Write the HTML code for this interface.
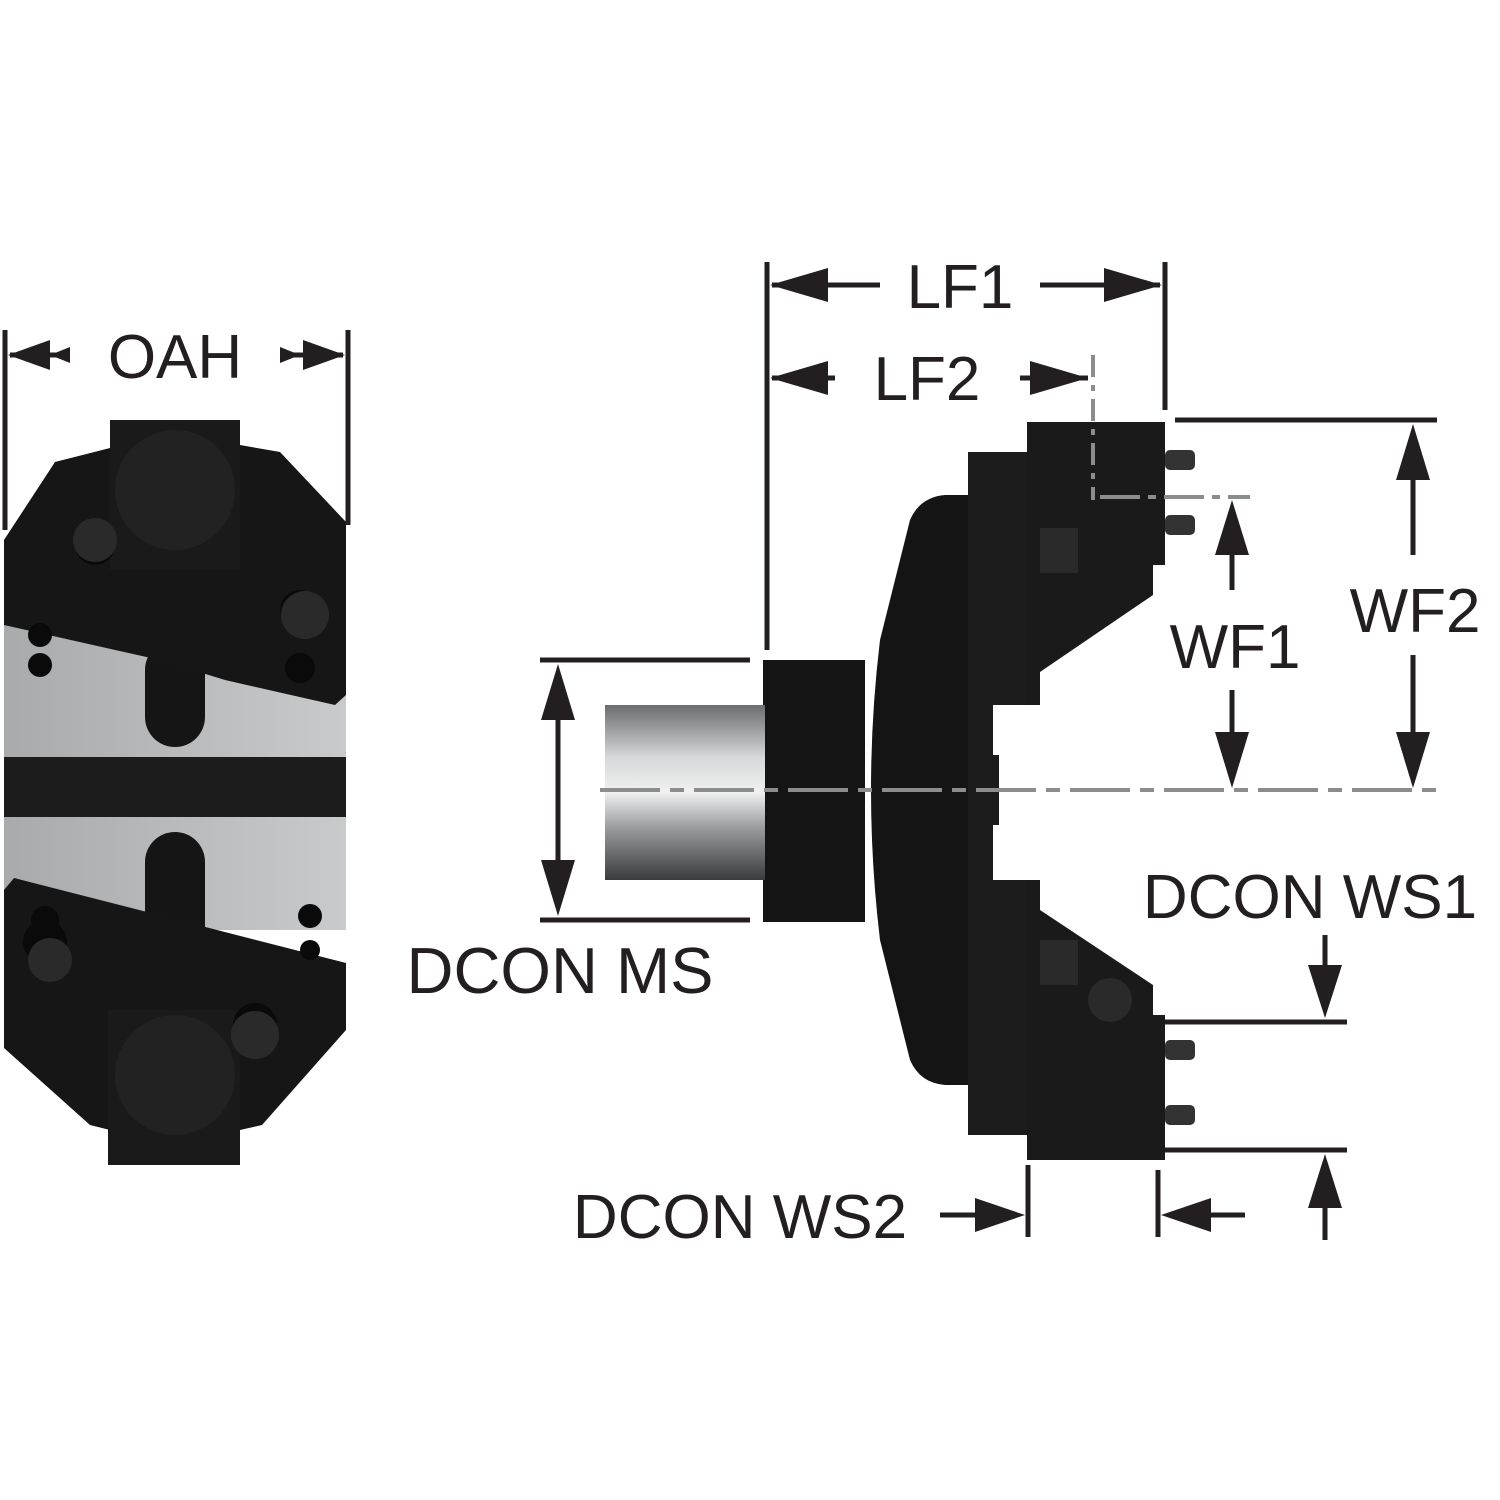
<!DOCTYPE html>
<html><head><meta charset="utf-8"><style>
html,body{margin:0;padding:0;background:#fff}
svg{display:block}
text{font-family:"Liberation Sans",sans-serif;fill:#231f20}
</style></head><body>
<svg width="1500" height="1500" viewBox="0 0 1500 1500" xmlns="http://www.w3.org/2000/svg">
<defs>
<linearGradient id="g1" x1="0" y1="0" x2="0" y2="1"><stop offset="0" stop-color="#6a6c6e"/><stop offset=".3" stop-color="#d6d8d9"/><stop offset=".5" stop-color="#f0f0f0"/><stop offset=".7" stop-color="#9a9c9e"/><stop offset="1" stop-color="#3a3b3c"/></linearGradient>
<linearGradient id="gb" x1="0" y1="0" x2="1" y2="0"><stop offset="0" stop-color="#a8aaab"/><stop offset="1" stop-color="#c8cacb"/></linearGradient>
</defs>
<!-- LEFT VIEW -->
<rect x="4" y="590" width="342" height="340" fill="url(#gb)"/>
<rect x="4" y="757" width="342" height="60" fill="#1c1c1c"/>
<rect x="145" y="640" width="60" height="107" rx="30" fill="#151515"/>
<rect x="145" y="832" width="60" height="130" rx="30" fill="#151515"/>
<polygon points="4,625 4,540 55,462 110,448 110,420 240,420 240,445 280,452 346,522 346,695 335,705 225,680 160,660" fill="#161616"/>
<rect x="110" y="420" width="130" height="150" fill="#1a1a1a"/>
<circle cx="175" cy="490" r="60" fill="#222"/>
<polygon points="4,890 14,878 346,963 346,1030 262,1125 240,1130 110,1130 90,1125 4,1048" fill="#161616"/>
<rect x="108" y="1010" width="132" height="155" fill="#1a1a1a"/>
<circle cx="175" cy="1075" r="60" fill="#222"/>
<g fill="#0a0a0a"><circle cx="40" cy="635" r="12"/><circle cx="40" cy="665" r="12"/><circle cx="310" cy="916" r="12"/><circle cx="310" cy="950" r="10"/><circle cx="95" cy="545" r="20"/><circle cx="300" cy="610" r="20"/><circle cx="45" cy="942" r="22"/><circle cx="255" cy="1025" r="22"/><circle cx="300" cy="668" r="15"/><circle cx="45" cy="920" r="14"/></g>
<g fill="#2a2a2a"><circle cx="95" cy="540" r="22"/><circle cx="50" cy="960" r="22"/><circle cx="255" cy="1035" r="24"/><circle cx="305" cy="615" r="24"/></g>
<!-- dims -->
<g stroke="#231f20" stroke-width="5" fill="none">
<line x1="5" y1="330" x2="5" y2="530"/><line x1="348" y1="330" x2="348" y2="525"/>
<line x1="10" y1="355" x2="70" y2="355"/><line x1="280" y1="355" x2="343" y2="355"/>
<line x1="767" y1="262" x2="767" y2="650"/><line x1="1165" y1="262" x2="1165" y2="410"/>
<line x1="772" y1="285" x2="880" y2="285"/><line x1="1040" y1="285" x2="1160" y2="285"/>
<line x1="772" y1="378" x2="835" y2="378"/><line x1="1020" y1="378" x2="1088" y2="378"/>
<line x1="1175" y1="420" x2="1437" y2="420"/>
<line x1="1413" y1="470" x2="1413" y2="555"/><line x1="1413" y1="655" x2="1413" y2="740"/>
<line x1="1232" y1="545" x2="1232" y2="590"/><line x1="1232" y1="690" x2="1232" y2="740"/>
<line x1="540" y1="660" x2="750" y2="660"/><line x1="540" y1="920" x2="750" y2="920"/>
<line x1="558" y1="715" x2="558" y2="865"/>
<line x1="1165" y1="1022" x2="1347" y2="1022"/><line x1="1165" y1="1150" x2="1347" y2="1150"/>
<line x1="1325" y1="935" x2="1325" y2="975"/><line x1="1325" y1="1200" x2="1325" y2="1240"/>
<line x1="1028" y1="1165" x2="1028" y2="1237"/><line x1="1158" y1="1170" x2="1158" y2="1237"/>
<line x1="940" y1="1215" x2="980" y2="1215"/><line x1="1205" y1="1215" x2="1245" y2="1215"/>
</g>
<g fill="#231f20">
<polygon points="8,355 50,340 50,370"/><polygon points="345,355 303,340 303,370"/>
<polygon points="50,355 70,347 70,363" /><polygon points="300,355 280,347 280,363"/>
<polygon points="770,285 828,268 828,302"/><polygon points="1162,285 1104,268 1104,302"/>
<polygon points="770,378 828,361 828,395"/><polygon points="1088,378 1030,361 1030,395"/>
<polygon points="1413,424 1396,480 1430,480"/><polygon points="1413,788 1396,732 1430,732"/>
<polygon points="1232,500 1215,555 1249,555"/><polygon points="1232,788 1215,732 1249,732"/>
<polygon points="558,664 541,720 575,720"/><polygon points="558,916 541,860 575,860"/>
<polygon points="1325,1018 1308,965 1342,965"/><polygon points="1325,1154 1308,1208 1342,1208"/>
<polygon points="1025,1215 975,1198 975,1232"/><polygon points="1161,1215 1211,1198 1211,1232"/>
</g>
<!-- RIGHT VIEW body -->
<path d="M975,495 L945,495 Q920,497 910,520 L880,640 Q862,790 880,940 L910,1060 Q920,1083 945,1085 L975,1085 Z" fill="#141414"/>
<rect x="968" y="452" width="25" height="683" fill="#1c1c1c"/>
<rect x="993" y="452" width="47" height="253" fill="#1c1c1c"/>
<rect x="993" y="880" width="47" height="255" fill="#1c1c1c"/>
<rect x="993" y="755" width="6" height="70" fill="#1c1c1c"/>
<polygon points="1027,422 1165,422 1165,565 1153,565 1153,595 1040,672 1040,705 1027,705" fill="#1a1a1a"/>
<polygon points="1027,1160 1165,1160 1165,1015 1153,1015 1153,985 1040,910 1040,880 1027,880" fill="#1a1a1a"/>
<rect x="1040" y="528" width="38" height="45" fill="#2a2a2a"/>
<rect x="1040" y="940" width="38" height="45" fill="#2a2a2a"/>
<circle cx="1110" cy="1000" r="22" fill="#2a2a2a"/>
<g fill="#333"><rect x="1165" y="450" width="30" height="20" rx="5"/><rect x="1165" y="515" width="30" height="20" rx="5"/><rect x="1165" y="1040" width="30" height="20" rx="5"/><rect x="1165" y="1105" width="30" height="20" rx="5"/></g>
<rect x="763" y="660" width="102" height="262" fill="#141414"/>
<rect x="605" y="705" width="160" height="175" fill="url(#g1)"/>
<g stroke="#8a8c8e" stroke-width="4" fill="none">
<line x1="1093" y1="355" x2="1093" y2="500" stroke-dasharray="22,8,6,8"/>
<line x1="1100" y1="497" x2="1250" y2="497" stroke-dasharray="40,8,8,8"/>
<line x1="600" y1="790" x2="1437" y2="790" stroke-dasharray="60,10,14,10"/>
</g>
<!-- labels -->
<text x="175" y="378" font-size="62" text-anchor="middle">OAH</text>
<text x="960" y="308" font-size="62" text-anchor="middle">LF1</text>
<text x="927" y="400" font-size="62" text-anchor="middle">LF2</text>
<text x="1235" y="668" font-size="62" text-anchor="middle">WF1</text>
<text x="1415" y="632" font-size="62" text-anchor="middle">WF2</text>
<text x="560" y="993" font-size="65" text-anchor="middle">DCON MS</text>
<text x="1310" y="918" font-size="62" text-anchor="middle">DCON WS1</text>
<text x="740" y="1238" font-size="62" text-anchor="middle">DCON WS2</text>
</svg>
</body></html>
